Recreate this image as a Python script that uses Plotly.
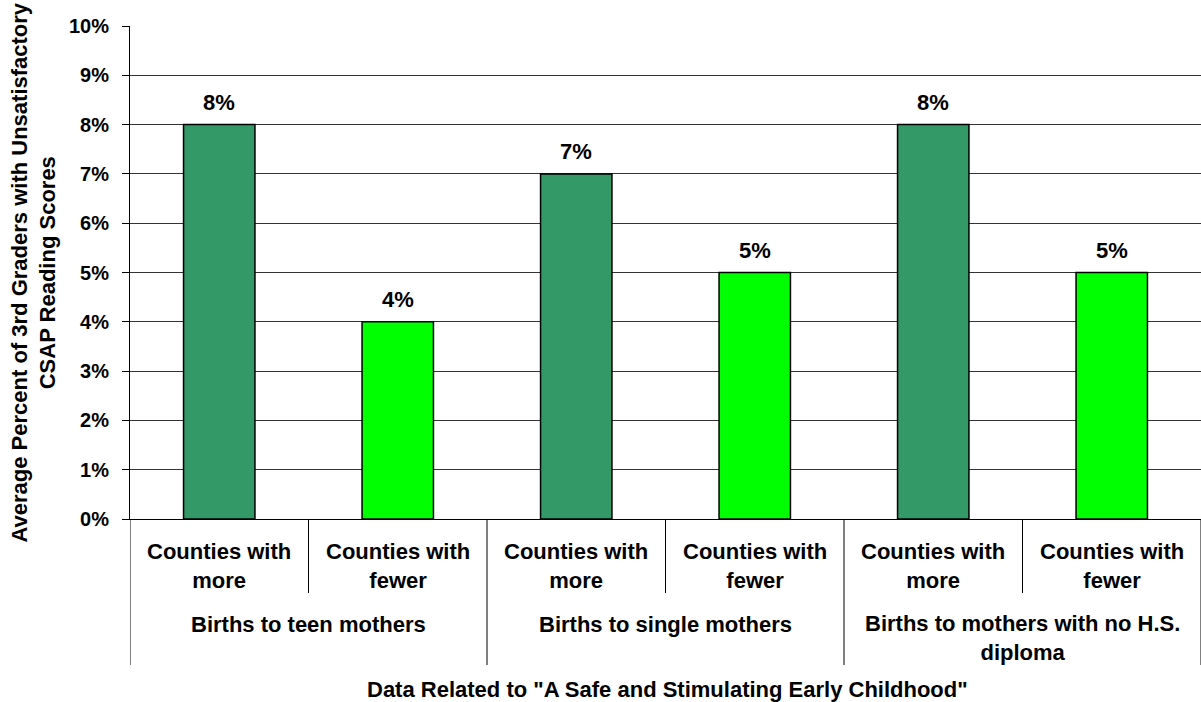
import plotly.graph_objects as go

# Chart data
groups = [
    "Births to teen mothers",
    "Births to single mothers",
    "Births to mothers with no H.S.<br>diploma",
]
subgroups = ["Counties with<br>more", "Counties with<br>fewer"]
values = [0.08, 0.04, 0.07, 0.05, 0.08, 0.05]
subgroup_colors = ["#339966", "#00FF00"]

FONT = "Liberation Sans, Arial, Helvetica, sans-serif"
W, H = 1201, 702
M_L, M_R, M_T, M_B = 130, 0, 26, 183
PLOT_H = H - M_T - M_B


def paper_y(px):
    """Convert a page pixel row to paper y coordinate."""
    return (H - M_B - px) / PLOT_H


def paper_x(px):
    return (px - M_L) / (W - M_L - M_R)


def bold(size):
    return dict(family=FONT, size=size, color="black", weight="bold")


n_sub = len(subgroups)
xs = list(range(len(values)))
colors = [subgroup_colors[i % n_sub] for i in xs]

fig = go.Figure()
fig.add_trace(
    go.Bar(
        x=xs,
        y=values,
        width=0.4,
        marker=dict(color=colors, line=dict(color="black", width=1.5)),
        hoverinfo="skip",
    )
)

annotations = []
# value labels above bars
for x, v in zip(xs, values):
    annotations.append(
        dict(
            x=x, y=v, xref="x", yref="y", text=f"{v:.0%}", showarrow=False,
            yanchor="bottom", yshift=8, font=bold(22),
        )
    )

# inner category labels
for x in xs:
    annotations.append(
        dict(
            x=x, y=paper_y(566), xref="x", yref="paper",
            text=subgroups[x % n_sub], showarrow=False, yanchor="middle",
            font=bold(22),
        )
    )

# outer group labels
for g, name in enumerate(groups):
    nlines = name.count("<br>") + 1
    center = 624 + (nlines - 1) * 14
    annotations.append(
        dict(
            x=g * n_sub + (n_sub - 1) / 2, y=paper_y(center), xref="x", yref="paper",
            text=name, showarrow=False, yanchor="middle", font=bold(22),
        )
    )

# axis titles
annotations.append(
    dict(
        x=paper_x(667), y=paper_y(690), xref="paper", yref="paper",
        text='Data Related to "A Safe and Stimulating Early Childhood"',
        showarrow=False, yanchor="middle", xanchor="center", font=bold(22),
    )
)
annotations.append(
    dict(
        x=paper_x(33), y=0.5, xref="paper", yref="paper",
        text="Average Percent of 3rd Graders with Unsatisfactory<br>CSAP Reading Scores",
        showarrow=False, textangle=-90, xanchor="center", yanchor="middle",
        font=bold(22),
    )
)

# category divider lines below the axis
shapes = []
for b in range(len(values) + 1):
    xb = b - 0.5
    long = b % n_sub == 0
    shapes.append(
        dict(
            type="line", xref="x", yref="paper",
            x0=xb, x1=xb, y0=0, y1=paper_y(665 if long else 593),
            line=dict(color="black", width=1),
        )
    )

fig.update_layout(
    width=W, height=H,
    margin=dict(l=M_L, r=M_R, t=M_T, b=M_B),
    paper_bgcolor="white", plot_bgcolor="white",
    showlegend=False,
    bargap=0.6,
    annotations=annotations,
    shapes=shapes,
    xaxis=dict(
        range=[-0.5, len(values) - 0.5],
        showticklabels=False, showgrid=False, zeroline=False,
        showline=True, linecolor="black", linewidth=1, ticks="",
        fixedrange=True,
    ),
    yaxis=dict(
        range=[0, 0.10], dtick=0.01, tickformat=".0%",
        showgrid=True, gridcolor="#333333", gridwidth=1,
        zeroline=False, showline=True, linecolor="black", linewidth=1,
        ticks="outside", ticklen=7, tickcolor="black", ticklabelstandoff=9,
        tickfont=bold(20),
        fixedrange=True,
    ),
)

fig.write_html("out.html", config={"displayModeBar": False})
